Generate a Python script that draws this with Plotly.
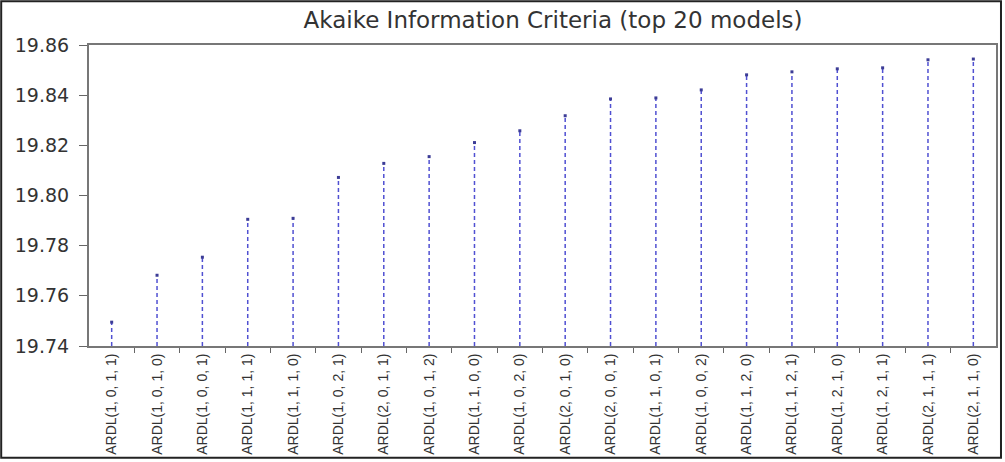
import plotly.graph_objects as go

# Top 20 ARDL specifications ranked by Akaike information criterion
models = [
    "ARDL(1, 0, 1, 1)", "ARDL(1, 0, 1, 0)", "ARDL(1, 0, 0, 1)", "ARDL(1, 1, 1, 1)",
    "ARDL(1, 1, 1, 0)", "ARDL(1, 0, 2, 1)", "ARDL(2, 0, 1, 1)", "ARDL(1, 0, 1, 2)",
    "ARDL(1, 1, 0, 0)", "ARDL(1, 0, 2, 0)", "ARDL(2, 0, 1, 0)", "ARDL(2, 0, 0, 1)",
    "ARDL(1, 1, 0, 1)", "ARDL(1, 0, 0, 2)", "ARDL(1, 1, 2, 0)", "ARDL(1, 1, 2, 1)",
    "ARDL(1, 2, 1, 0)", "ARDL(1, 2, 1, 1)", "ARDL(2, 1, 1, 1)", "ARDL(2, 1, 1, 0)",
]
aic = [
    19.7495, 19.7682, 19.7754, 19.7905, 19.7909, 19.8072, 19.8128, 19.8155,
    19.8211, 19.8258, 19.8318, 19.8385, 19.8389, 19.8421, 19.8481, 19.8493,
    19.8505, 19.8509, 19.8541, 19.8544,
]
y_ticks = [19.74, 19.76, 19.78, 19.80, 19.82, 19.84, 19.86]
axis_floor = y_ticks[0]

# Dashed stems from the axis floor up to each AIC value (positioned by index)
idx = list(range(len(models)))
stem_x, stem_y = [], []
for i, v in zip(idx, aic):
    stem_x += [i, i, None]
    stem_y += [axis_floor, v, None]

fig = go.Figure()
fig.add_trace(go.Scatter(
    x=stem_x, y=stem_y, mode="lines",
    line=dict(color="rgb(80,80,210)", width=1.5, dash="4px,3px"),
    hoverinfo="skip", showlegend=False,
))
fig.add_trace(go.Scatter(
    x=idx, y=aic, mode="markers",
    marker=dict(color="rgb(60,60,150)", size=3, symbol="square"),
    text=models, hovertemplate="%{text}: %{y:.4f}<extra></extra>",
    showlegend=False,
))

# Small tick marks between neighbouring categories
boundary_ticks = [i + 0.5 for i in idx[:-1]]

fig.update_layout(
    width=1005, height=462,
    margin=dict(l=89, r=7, t=45, b=115),
    paper_bgcolor="white", plot_bgcolor="white",
    font=dict(family="DejaVu Sans", color="#333333"),
    title=dict(
        text="Akaike Information Criteria (top 20 models)",
        x=553 / 1005, xref="container", xanchor="center",
        y=1 - 20 / 462, yref="container", yanchor="middle",
        font=dict(size=23, color="#333333"),
    ),
    xaxis=dict(
        range=[-0.5, len(models) - 0.5],
        tickmode="array", tickvals=idx, ticktext=models,
        tickangle=-90, ticks="",
        tickfont=dict(family="Liberation Sans", size=14, color="#333333"),
        showline=True, linecolor="#777777", linewidth=2, mirror=True,
        showgrid=False, zeroline=False,
        minor=dict(tickmode="array", tickvals=boundary_ticks, ticks="outside",
                   ticklen=5, tickcolor="#666666", showgrid=False),
    ),
    yaxis=dict(
        range=[y_ticks[0], y_ticks[-1]], tickmode="array", tickvals=y_ticks,
        ticktext=[f"{t:.2f}" for t in y_ticks],
        ticks="outside", ticklen=8, tickcolor="#666666", ticklabelstandoff=6,
        tickfont=dict(size=19, color="#333333"),
        showline=True, linecolor="#777777", linewidth=2, mirror=True,
        showgrid=False, zeroline=False,
    ),
    shapes=[dict(
        type="rect", xref="paper", yref="paper",
        x0=-88 / 909, x1=1 + 5 / 909, y0=-112 / 302, y1=1 + 44 / 302,
        line=dict(color="#222222", width=2), fillcolor="rgba(0,0,0,0)",
    )],
)

fig.write_html("out.html")
